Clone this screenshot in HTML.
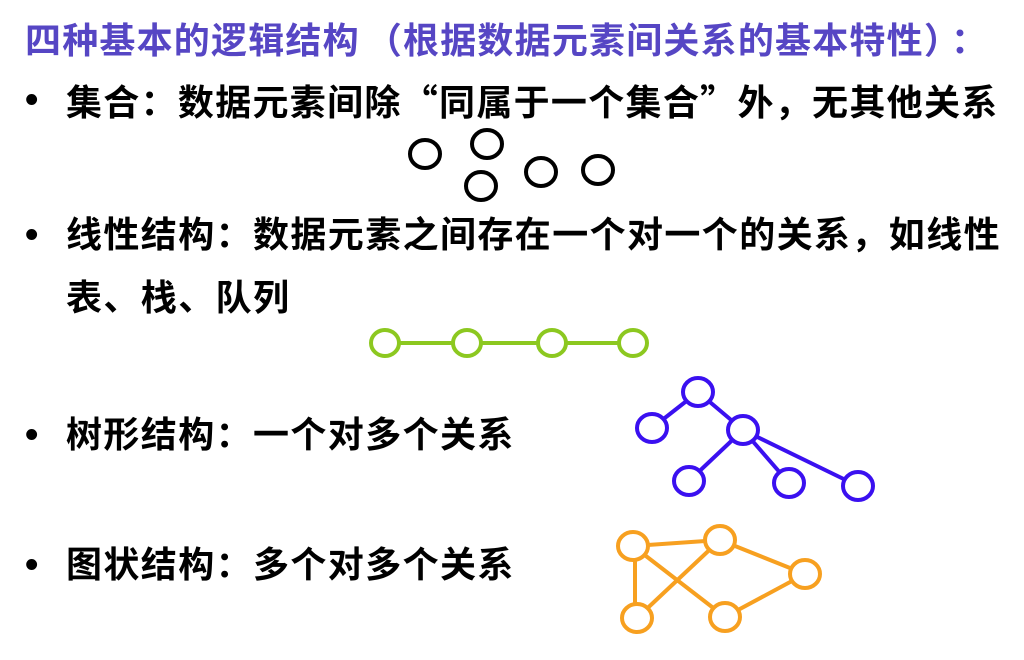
<!DOCTYPE html>
<html><head><meta charset="utf-8">
<style>
body{margin:0;width:1024px;height:660px;background:#fff;position:relative;overflow:hidden;font-family:"Liberation Sans","Noto Sans CJK SC",sans-serif;}
.t{position:absolute;font-size:36px;line-height:36px;font-weight:bold;letter-spacing:1.4px;white-space:nowrap;color:#000;}
.q{font-family:"Noto Sans CJK SC",sans-serif;}
.b{position:absolute;font-size:38px;line-height:36px;font-weight:bold;left:25px;}
svg{position:absolute;left:0;top:0;}
</style></head><body>
<div class="t" style="left:25px;top:20px;color:#5646c4;letter-spacing:1.2px;">四种基本的逻辑结构<span class="q" style="margin-left:6px">（</span>根据数据元素间关系的基本特性<span class="q" style="margin-right:8px">）</span>：</div>
<div class="b" style="top:82px">•</div>
<div class="t" style="left:66px;top:82px;letter-spacing:1.3px;">集合：数据元素间除<span class="q">“</span>同属于一个集合<span class="q">”</span>外，无其他关系</div>
<div class="b" style="top:217px">•</div>
<div class="t" style="left:66px;top:217px;">线性结构：数据元素之间存在一个对一个的关系，如线性</div>
<div class="t" style="left:66px;top:280px;">表、栈、队列</div>
<div class="b" style="top:417px">•</div>
<div class="t" style="left:66px;top:417px;">树形结构：一个对多个关系</div>
<div class="b" style="top:547px">•</div>
<div class="t" style="left:66px;top:547px;">图状结构：多个对多个关系</div>
<svg width="1024" height="660" fill="none" stroke-width="4">
<g stroke="#000">
<ellipse cx="425" cy="154" rx="15" ry="14"/>
<ellipse cx="487" cy="144" rx="15" ry="14"/>
<ellipse cx="481" cy="186" rx="15" ry="14"/>
<ellipse cx="541" cy="172" rx="15" ry="14"/>
<ellipse cx="598" cy="170" rx="15" ry="14"/>
</g>
<g stroke="#8cc820">
<line x1="399" y1="343" x2="619" y2="343"/>
<ellipse cx="385" cy="343" rx="14" ry="13" fill="#fff"/>
<ellipse cx="467" cy="343" rx="14" ry="13" fill="#fff"/>
<ellipse cx="552" cy="343" rx="14" ry="13" fill="#fff"/>
<ellipse cx="633" cy="343" rx="14" ry="13" fill="#fff"/>
</g>
<g stroke="#3a10f0">
<line x1="698" y1="392" x2="652" y2="428"/>
<line x1="698" y1="392" x2="743" y2="430"/>
<line x1="743" y1="430" x2="689" y2="481"/>
<line x1="743" y1="430" x2="789" y2="483"/>
<line x1="743" y1="430" x2="858" y2="486"/>
<ellipse cx="698" cy="392" rx="15" ry="14" fill="#fff"/>
<ellipse cx="652" cy="428" rx="15" ry="14" fill="#fff"/>
<ellipse cx="743" cy="430" rx="15" ry="14" fill="#fff"/>
<ellipse cx="689" cy="481" rx="15" ry="14" fill="#fff"/>
<ellipse cx="789" cy="483" rx="15" ry="14" fill="#fff"/>
<ellipse cx="858" cy="486" rx="15" ry="14" fill="#fff"/>
</g>
<g stroke="#f7a020">
<line x1="633" y1="546" x2="720" y2="540"/>
<line x1="635" y1="546" x2="635" y2="618"/>
<line x1="633" y1="546" x2="725" y2="617"/>
<line x1="720" y1="540" x2="637" y2="618"/>
<line x1="720" y1="540" x2="805" y2="574"/>
<line x1="805" y1="574" x2="725" y2="617"/>
<ellipse cx="633" cy="546" rx="15" ry="14" fill="#fff"/>
<ellipse cx="720" cy="540" rx="15" ry="14" fill="#fff"/>
<ellipse cx="805" cy="574" rx="15" ry="14" fill="#fff"/>
<ellipse cx="637" cy="618" rx="15" ry="14" fill="#fff"/>
<ellipse cx="725" cy="617" rx="15" ry="14" fill="#fff"/>
</g>
</svg>
</body></html>
